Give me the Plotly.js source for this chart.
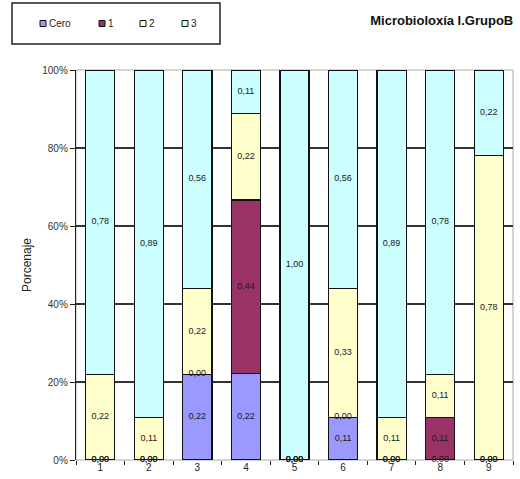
<!DOCTYPE html>
<html>
<head>
<meta charset="utf-8">
<script src="https://cdn.plot.ly/plotly-3.0.1.min.js"></script>
<style>html,body{margin:0;padding:0;background:#fff;}#chart{width:520px;height:479px;}</style>
</head>
<body>
<div id="chart"></div>
<script>
const categories = ['1','2','3','4','5','6','7','8','9'];
const seriesNames = ['Cero','1','2','3'];
const cero  = [0.00, 0.00, 0.22, 0.22, 0.00, 0.11, 0.00, 0.00, 0.00];
const uno   = [0.00, 0.00, 0.00, 0.44, 0.00, 0.00, 0.00, 0.11, 0.00];
const dous  = [0.22, 0.11, 0.22, 0.22, 0.00, 0.33, 0.11, 0.11, 0.78];
const tres  = [0.78, 0.89, 0.56, 0.11, 1.00, 0.56, 0.89, 0.78, 0.22];
const yTickVals = [0, 0.2, 0.4, 0.6, 0.8, 1.0];
const yTickText = ['0%','20%','40%','60%','80%','100%'];
const colors = ['#9999FF','#993366','#FFFFCC','#CCFFFF'];

const series = [cero, uno, dous, tres];
const traces = [];
const font = 'Arial, "Liberation Sans", sans-serif';

series.forEach((vals, i) => {
  traces.push({
    type: 'bar', x: categories, y: vals, name: seriesNames[i],
    marker: {color: colors[i], line: {color: '#111', width: 1.2}},
    width: 0.6, showlegend: false, hoverinfo: 'skip'
  });
});

// data labels at the middle of each (normalised) segment, including zero segments
const lx = [], ly = [], lt = [];
categories.forEach((c, j) => {
  const total = series.reduce((s, v) => s + v[j], 0);
  let base = 0;
  series.forEach(vals => {
    lx.push(c); ly.push((base + vals[j] / 2) / total); lt.push(vals[j].toFixed(2).replace('.', ','));
    base += vals[j];
  });
});
traces.push({
  type: 'scatter', mode: 'text', x: lx, y: ly, text: lt,
  textfont: {family: font, size: 9, color: '#1a1a1a'}, showlegend: false, hoverinfo: 'skip', cliponaxis: false
});

// legend drawn as a framed box with small squares
const legendX = [40, 99, 140, 182];  // px positions of the legend squares
const W = 520, H = 479, ml = 76, mr = 7, mt = 70, mb = 19;
const pw = W - ml - mr, ph = H - mt - mb;
const px = x => (x - ml) / pw;
const py = y => (H - mb - y) / ph;
const shapes = [
  {type: 'rect', xref: 'paper', yref: 'paper', x0: px(12), x1: px(220), y0: py(44), y1: py(3),
   line: {color: '#222', width: 1.5}, fillcolor: 'rgba(0,0,0,0)'},
  {type: 'rect', xref: 'paper', yref: 'paper', x0: 0, x1: 1, y0: 0, y1: 1,
   line: {color: '#aaa', width: 1}, fillcolor: 'rgba(0,0,0,0)', layer: 'below'}
];
const annotations = [];
seriesNames.forEach((n, i) => {
  shapes.push({type: 'rect', xref: 'paper', yref: 'paper', x0: px(legendX[i]), x1: px(legendX[i] + 6),
    y0: py(26.5), y1: py(20.5), fillcolor: colors[i], line: {color: '#111', width: 1}});
  annotations.push({xref: 'paper', yref: 'paper', x: px(legendX[i] + 7), y: py(23.5), xanchor: 'left', yanchor: 'middle',
    text: n, showarrow: false, font: {family: font, size: 10, color: '#222'}});
});

const layout = {
  width: W, height: H,
  margin: {l: ml, r: mr, t: mt, b: mb},
  paper_bgcolor: '#fff', plot_bgcolor: '#fff',
  barmode: 'stack', barnorm: 'fraction',
  font: {family: font, size: 10, color: '#222'},
  title: {text: '<b>Microbioloxía I.GrupoB</b>', x: 0.987, xanchor: 'right', y: 0.957, yanchor: 'middle',
          font: {family: font, size: 13, color: '#111'}},
  xaxis: {
    type: 'category', range: [-0.5, 8.5], showgrid: false, zeroline: false,
    ticks: 'outside', tickson: 'boundaries', ticklen: 4, tickcolor: '#222',
    showline: false, tickfont: {family: font, size: 10, color: '#222'}
  },
  yaxis: {
    range: [0, 1], tickvals: yTickVals, ticktext: yTickText,
    showgrid: true, gridcolor: '#333', gridwidth: 1.2, zeroline: false,
    showline: true, linecolor: '#222', linewidth: 1.2,
    ticks: 'outside', ticklen: 5, tickcolor: '#222',
    tickfont: {family: font, size: 10, color: '#333'},
    title: {text: 'Porcenaje', font: {family: font, size: 12, color: '#222'}, standoff: 8}
  },
  showlegend: false,
  shapes: shapes,
  annotations: annotations
};

Plotly.newPlot('chart', traces, layout, {displayModeBar: false, staticPlot: true});
</script>
</body>
</html>
